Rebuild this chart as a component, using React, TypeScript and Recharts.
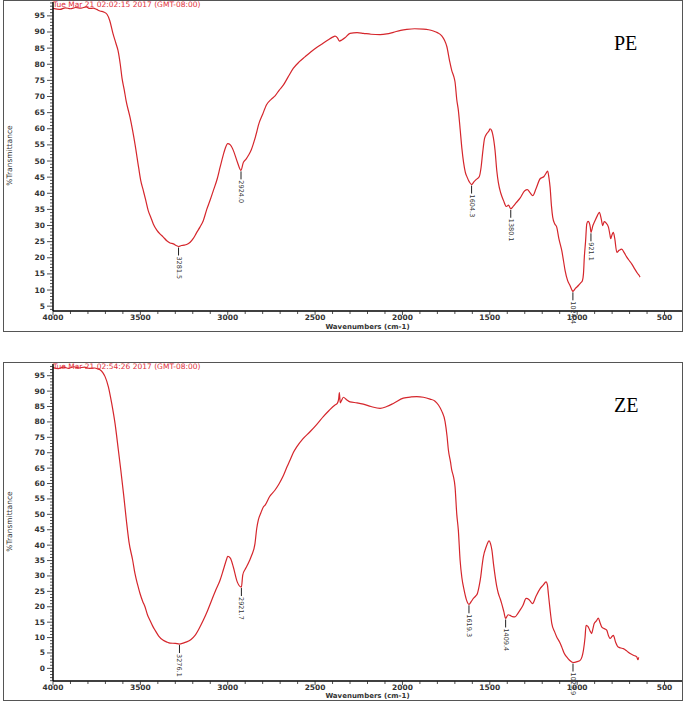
import { ComposedChart, Line, XAxis, YAxis, ReferenceDot } from "recharts";

// PE spectrum
const peWavenumbers = [
  4000, 3960, 3930, 3900, 3870, 3840, 3810, 3790, 3770, 3750, 3731, 3710, 3691, 3675, 3657, 3640, 3628,
  3615, 3605, 3592, 3582, 3559, 3530, 3510, 3498, 3483, 3470, 3455, 3440, 3426, 3405, 3388, 3370, 3349,
  3330, 3311, 3295, 3281.5, 3265, 3250, 3235, 3215, 3197, 3178, 3159, 3140, 3120, 3100, 3082, 3060, 3044,
  3025, 3015, 3000, 2985, 2968, 2945, 2924, 2911, 2895, 2882, 2865, 2853, 2834, 2825, 2800, 2777, 2750,
  2729, 2705, 2682, 2655, 2625, 2590, 2558, 2525, 2491, 2460, 2424, 2400, 2386, 2372, 2361, 2345, 2329,
  2300, 2260, 2224, 2180, 2128, 2090, 2052, 2010, 1975, 1930, 1880, 1850, 1823, 1800, 1775, 1760, 1746,
  1730, 1718, 1705, 1699, 1689, 1680, 1670, 1660, 1650, 1640, 1630, 1618, 1604.3, 1590, 1575, 1560, 1550,
  1540, 1530, 1517, 1505, 1499, 1490, 1483, 1470, 1460, 1451, 1437, 1422, 1405, 1393, 1380.1, 1365, 1350,
  1327, 1300, 1285, 1270, 1254, 1235, 1212, 1190, 1178, 1169, 1162, 1155, 1147, 1140, 1128, 1117, 1105,
  1088, 1078, 1069, 1055, 1041, 1030, 1024.4, 1010, 993, 980, 970, 964, 959, 952, 945, 938, 932, 925,
  921.1, 910, 898, 885, 873, 862, 854, 845, 835, 821, 812, 808, 800, 793, 785, 773, 760, 745, 730, 716,
  700, 688, 670, 655, 645, 640,
];
const peTransmittance = [
  97.3, 97.0, 97.5, 97.2, 97.6, 97.4, 97.8, 97.3, 97.4, 97.0, 96.5, 96.2, 95.5, 93.5, 89.6, 86.5, 84.3,
  80, 75.7, 72, 68.8, 63.5, 55, 48, 44, 40.8, 38, 34.6, 32.5, 30.5, 28.5, 27.4, 26.5, 25.3,
  24.6, 24.3, 23.8, 23.5, 23.8, 23.9, 24.1, 24.8, 26.0, 27.8, 29.5, 31.5, 35, 38, 40.9, 44.5, 48,
  52, 53.8, 55.4, 55, 53.3, 49.7, 47.1, 49.5, 50.6, 51.7, 53.5, 55.4, 59, 61, 64.5, 67.5, 69.2,
  70.2, 72, 73.5, 76, 78.7, 80.8, 82.3, 83.8, 85.2, 86.3, 87.6, 88.4, 88.7, 88.2, 87.2, 87.6, 88.2,
  89.6, 89.8, 89.6, 89.3, 89.2, 89.4, 89.9, 90.5, 90.8, 91.0, 90.9, 90.7, 90.3, 89.8, 88.8, 87.5, 85.5,
  81, 78.1, 76, 74.5, 69, 65.7, 60, 54, 49.5, 46.5, 45, 43.6, 42.7, 43.6, 44.4, 45.2, 48,
  53, 57, 58.5, 59.3, 60, 59.5, 58.2, 53.3, 47, 43.3, 40, 37.8, 35.9, 36.3, 35.2, 36.0, 37.0,
  38.5, 40.8, 41.1, 40.2, 39.3, 41.5, 44.5, 45.2, 46.2, 46.9, 45, 41.9, 36, 32.6, 30.5, 29.5, 26,
  22.2, 19, 16, 13, 11.4, 10.0, 9.6, 10.5, 11.4, 12.2, 12.9, 15, 20.2, 25, 30.5, 31.3, 31, 29.5,
  27.9, 30, 31.5, 33, 34.1, 32, 30, 31.2, 30.8, 29.5, 27, 25.9, 27.2, 27.9, 26, 21.7, 22.3, 22.7, 21.5, 20.2,
  19, 18.1, 16.5, 15.2, 14.5, 14.0,
];

// ZE spectrum
const zeWavenumbers = [
  4000, 3970, 3940, 3910, 3880, 3850, 3820, 3790, 3760, 3745, 3731, 3715, 3702, 3683, 3664, 3645, 3626,
  3612, 3595, 3580, 3565, 3544, 3531, 3515, 3502, 3487, 3473, 3460, 3445, 3430, 3416, 3395, 3369, 3350,
  3330, 3300, 3276.1, 3255, 3235, 3210, 3187, 3165, 3140, 3115, 3092, 3070, 3044, 3025, 3006, 3000, 2985,
  2968, 2945, 2921.7, 2914, 2900, 2893, 2875, 2863, 2844, 2834, 2825, 2810, 2796, 2786, 2760, 2729, 2705,
  2682, 2660, 2643, 2625, 2605, 2570, 2529, 2490, 2453, 2420, 2386, 2373, 2365, 2361, 2356, 2350, 2338,
  2320, 2300, 2260, 2224, 2180, 2128, 2090, 2052, 1995, 1950, 1918, 1880, 1842, 1815, 1794, 1775, 1756,
  1745, 1737, 1725, 1718, 1709, 1699, 1689, 1680, 1670, 1660, 1647, 1635, 1619.3, 1605, 1594, 1580, 1571,
  1560, 1552, 1545, 1537, 1521, 1504, 1496, 1488, 1478, 1469, 1460, 1451, 1440, 1432, 1420, 1409.4, 1395,
  1384, 1370, 1356, 1340, 1327, 1310, 1292, 1275, 1256, 1235, 1212, 1195, 1178, 1170, 1165, 1155, 1145,
  1130, 1117, 1100, 1088, 1075, 1060, 1045, 1023.9, 1000, 983, 972, 964, 955, 949, 942, 936, 925, 917,
  910, 903, 890, 879, 870, 859, 845, 831, 820, 812, 800, 793, 780, 765, 750, 736, 715, 697, 675, 659,
  652, 648,
];
const zeTransmittance = [
  97.6, 97.3, 97.8, 97.4, 97.9, 97.5, 97.8, 97.4, 97.5, 97.2, 96.9, 96.0, 94.7, 91.4, 86, 79.5, 70.9,
  64.4, 56, 48, 41, 35.1, 30.8, 27, 24.3, 21.8, 19.9, 17.5, 15.6, 13.8, 12.4, 10.5, 9.1, 8.6,
  8.2, 8.1, 7.9, 8.2, 8.6, 9.4, 10.7, 12.8, 15.6, 18.8, 22.1, 25.2, 28.6, 32, 35.5, 36.4, 35.8,
  32.9, 28, 26.4, 30.3, 32.2, 32.9, 35, 36.7, 40.5, 45.4, 48.1, 50.5, 52.4, 53, 55.8, 57.9, 60,
  62.5, 65.5, 67.6, 70, 71.9, 74.5, 76.8, 79.2, 81.7, 83.7, 85.5, 86, 87.5, 89.5, 86.2, 86.8, 88,
  87.2, 86.5, 86.2, 85.8, 85, 84.4, 85, 86, 87.7, 88.1, 88.2, 88, 87.4, 86.8, 85.5, 83.5, 80.1,
  75.5, 70.9, 67, 64.4, 62.5, 58.9, 50, 44.8, 35.1, 29.5, 25.4, 22.5, 20.8, 21.8, 22.7, 23.5, 24.3,
  27, 29.7, 33, 36.2, 39.4, 41.4, 40.5, 38.4, 33.5, 29.7, 26.5, 24.3, 22.5, 21, 18.5, 16.2, 17.4,
  17.2, 16.8, 16.7, 17.8, 18.9, 20.5, 22.7, 22.3, 21, 23.5, 25.9, 27, 28.1, 27, 24.3, 19, 14.5,
  12, 10.2, 8.5, 6.9, 5, 3.7, 2.7, 1.9, 2.2, 2.6, 3.8, 5.9, 10, 14, 13.8, 13.4, 12, 11.3,
  12.8, 14.5, 15.4, 16.3, 15, 13.4, 12.9, 12.4, 10.5, 9.7, 10.4, 10.7, 8.5, 6.9, 6.6, 6.4, 5.6, 4.8, 4.2, 3.7,
  2.8, 3.6,
];

const pePeaks = [3281.5, 2924.0, 1604.3, 1380.1, 1024.4, 921.1];
const pePeakLabels = ["3281.5", "2924.0", "1604.3", "1380.1", "1024.4", "921.1"];
const zePeaks = [3276.1, 2921.7, 1619.3, 1409.4, 1023.9];
const zePeakLabels = ["3276.1", "2921.7", "1619.3", "1409.4", "1023.9"];

const xTicks: number[] = [];
for (let v = 500; v <= 4000; v += 100) xTicks.push(v);

const RED = "#d5262c";
const AXIS_FONT = "'DejaVu Sans', Verdana, sans-serif";

function YTick(props: any) {
  const { x, y, payload } = props;
  const v = payload.value as number;
  const major = v % 5 === 0;
  return (
    <g>
      <line x1={x - (major ? 6 : 3)} x2={x} y1={y} y2={y} stroke="#222" strokeWidth={0.8} />
      {major && (
        <text x={x - 8} y={y} textAnchor="end" dominantBaseline="central" fontSize={7.5} fontWeight="bold" fill="#333" fontFamily={AXIS_FONT}>
          {v}
        </text>
      )}
    </g>
  );
}

function XTick(props: any) {
  const { x, y, payload } = props;
  const v = payload.value as number;
  const major = v % 500 === 0;
  return (
    <g>
      <line x1={x} x2={x} y1={y} y2={y + (major ? 4 : 3)} stroke="#222" strokeWidth={0.8} />
      {major && (
        <text x={x} y={y + 6.5} textAnchor="middle" dominantBaseline="central" fontSize={7.5} fontWeight="bold" fill="#333" fontFamily={AXIS_FONT}>
          {v}
        </text>
      )}
    </g>
  );
}

function PeakMarker(props: any) {
  const { cx, cy, text } = props;
  const ty = cy + 10;
  return (
    <g>
      <line x1={cx} x2={cx} y1={cy + 1} y2={cy + 9} stroke="#222" strokeWidth={1} />
      <text x={cx} y={ty} transform={`rotate(90 ${cx} ${ty})`} dominantBaseline="central" fontSize={6.5} fill="#333" fontFamily={AXIS_FONT}>
        {text}
      </text>
    </g>
  );
}

type PanelProps = {
  top: number;
  height: number;
  axisHeight: number;
  wn: number[];
  t: number[];
  yDomain: [number, number];
  yTicks: number[];
  peaks: number[];
  peakLabels: string[];
  stamp: string;
  name: string;
};

function Panel({ top, height, axisHeight, wn, t, yDomain, yTicks, peaks, peakLabels, stamp, name }: PanelProps) {
  const rows = wn.map((w, i) => ({ wn: w, t: t[i] }));
  const yAt = (w: number) => t[wn.indexOf(w)];
  const midY = (height - axisHeight) / 2;
  return (
    <div style={{ position: "absolute", left: 3, top, width: 680, height }}>
      <ComposedChart width={680} height={height} data={rows} margin={{ top: 2, right: 1, left: 0, bottom: 0 }}>
        <XAxis
          dataKey="wn"
          type="number"
          domain={[400, 4000]}
          reversed
          ticks={xTicks}
          interval={0}
          tick={XTick}
          tickLine={false}
          tickSize={0}
          tickMargin={0}
          height={axisHeight}
          axisLine={{ stroke: "#000", strokeWidth: 1.5 }}
          label={{ value: "Wavenumbers (cm-1)", position: "insideBottom", offset: 2, fontSize: 7, fill: "#333", fontFamily: AXIS_FONT, fontWeight: "bold" }}
        />
        <YAxis
          type="number"
          domain={yDomain}
          ticks={yTicks}
          interval={0}
          tick={YTick}
          tickLine={false}
          tickSize={0}
          tickMargin={0}
          width={50}
          axisLine={{ stroke: "#000", strokeWidth: 1.5 }}
          allowDataOverflow
          label={{
            content: () => (
              <text x={6} y={midY} transform={`rotate(-90 6 ${midY})`} textAnchor="middle" dominantBaseline="central" fontSize={7.5} fill="#333" fontFamily={AXIS_FONT}>
                %Transmittance
              </text>
            ),
          }}
        />
        <Line type="monotone" dataKey="t" stroke={RED} strokeWidth={1.2} dot={false} isAnimationActive={false} />
        {peaks.map((p, i) => (
          <ReferenceDot
            key={p}
            x={p}
            y={yAt(p)}
            ifOverflow="visible"
            shape={(sp: any) => <PeakMarker cx={sp.cx} cy={sp.cy} text={peakLabels[i]} />}
          />
        ))}
      </ComposedChart>
      <div style={{ position: "absolute", left: 50, top: 1, fontSize: 7.5, color: "#e0303a", fontFamily: AXIS_FONT, lineHeight: 1 }}>{stamp}</div>
      <div style={{ position: "absolute", left: 611, top: 33, fontSize: 20, fontFamily: "'Liberation Serif', 'Times New Roman', serif", lineHeight: 1, color: "#000" }}>{name}</div>
      <div style={{ position: "absolute", left: 0, top: 0, width: 678, height: height - 1, border: "1px solid #555", pointerEvents: "none" }} />
    </div>
  );
}

const peYTicks: number[] = [];
for (let v = 4; v <= 99; v++) peYTicks.push(v);
const zeYTicks: number[] = [];
for (let v = -4; v <= 98; v++) zeYTicks.push(v);

export default function App() {
  return (
    <div style={{ position: "absolute", left: 0, top: 0, width: 685, height: 702, background: "#fff" }}>
      <Panel
        top={0}
        height={331}
        axisHeight={20}
        wn={peWavenumbers}
        t={peTransmittance}
        yDomain={[3.5, 99.3]}
        yTicks={peYTicks}
        peaks={pePeaks}
        peakLabels={pePeakLabels}
        stamp="Tue Mar 21 02:02:15 2017 (GMT-08:00)"
        name="PE"
      />
      <Panel
        top={362}
        height={338}
        axisHeight={19}
        wn={zeWavenumbers}
        t={zeTransmittance}
        yDomain={[-4.1, 98.8]}
        yTicks={zeYTicks}
        peaks={zePeaks}
        peakLabels={zePeakLabels}
        stamp="Tue Mar 21 02:54:26 2017 (GMT-08:00)"
        name="ZE"
      />
    </div>
  );
}
